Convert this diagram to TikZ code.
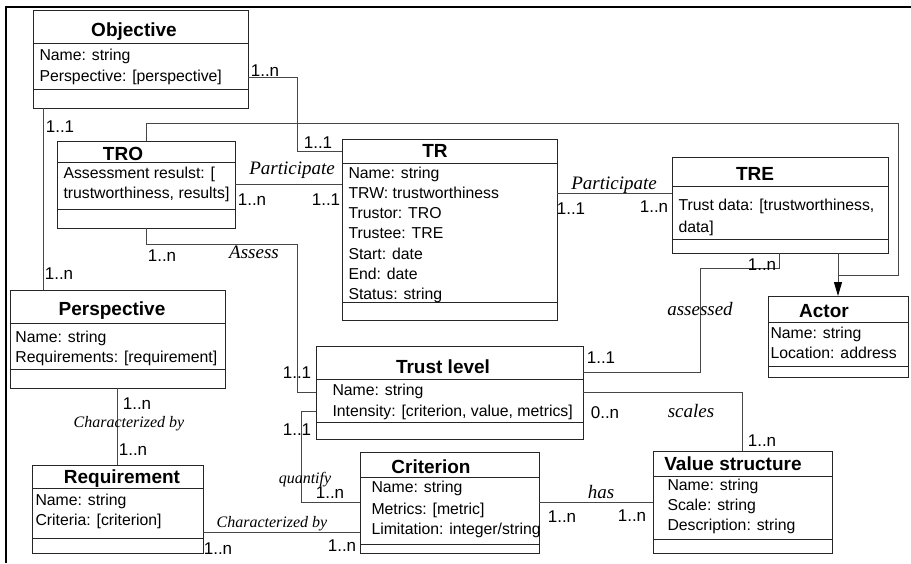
\documentclass[tikz,border=0pt]{standalone}
\usepackage{fontspec}
\setmainfont{Liberation Sans}
\newfontfamily\rolefont{Liberation Serif}
\usetikzlibrary{arrows.meta}

\begin{document}
\begin{tikzpicture}[x=1pt,y=-1pt,line width=1pt,
  classbox/.style={draw=black!85,anchor=north west,inner sep=0pt,outer sep=0pt},
  ctitle/.style={anchor=base,inner sep=0pt,font=\fontsize{19}{22}\selectfont\bfseries},
  attr/.style={anchor=base west,inner sep=0pt,font=\fontsize{15.8}{18}\selectfont},
  mult/.style={anchor=base,inner sep=0pt,font=\fontsize{17}{20}\selectfont},
  role/.style={anchor=base,inner sep=0pt,font=\fontsize{19}{22}\selectfont\rolefont\itshape},
  smallrole/.style={role,font=\fontsize{16}{19}\selectfont\rolefont\itshape},
  link/.style={draw=black!72}]
\useasboundingbox (0,0) rectangle (911,563);
% ---------- frame ----------
\draw[line width=2.5pt] (6,563) -- (6,7) -- (911,7);
% ---------- Objective ----------
\node[classbox,minimum width=215,minimum height=98] (obj) at (33,10) {};
\draw[black!85] (33,43) -- (248,43) (33,89) -- (248,89);
\node[ctitle] (obj-t) at (134,36) {Objective};
\node[attr] (obj-a1) at (39,60) {Name: string};
\node[attr] (obj-a2) at (39,81) {Perspective: [perspective]};
% ---------- TRO ----------
\node[classbox,minimum width=178,minimum height=87] (tro) at (57,141) {};
\draw[black!85] (57,162) -- (235,162) (57,209) -- (235,209);
\node[ctitle] (tro-t) at (123,160) {TRO};
\node[attr] (tro-a1) at (63,178) {Assessment resulst: [};
\node[attr] (tro-a2) at (63,198) {trustworthiness, results]};
% ---------- TR ----------
\node[classbox,minimum width=215,minimum height=181] (tr) at (342,139) {};
\draw[black!85] (342,163) -- (557,163) (342,302) -- (557,302);
\node[ctitle] (tr-t) at (435,157) {TR};
\node[attr] (tr-a1) at (348,178) {Name: string};
\node[attr] (tr-a2) at (348,198) {TRW: trustworthiness};
\node[attr] (tr-a3) at (348,218) {Trustor: TRO};
\node[attr] (tr-a4) at (348,238) {Trustee: TRE};
\node[attr] (tr-a5) at (348,259) {Start: date};
\node[attr] (tr-a6) at (348,279) {End: date};
\node[attr] (tr-a7) at (348,299) {Status: string};
% ---------- TRE ----------
\node[classbox,minimum width=216,minimum height=96] (tre) at (672,157) {};
\draw[black!85] (672,186) -- (888,186) (672,239) -- (888,239);
\node[ctitle] (tre-t) at (755,180) {TRE};
\node[attr] (tre-a1) at (678,210) {Trust data: [trustworthiness,};
\node[attr] (tre-a2) at (678,232) {data]};
% ---------- Actor ----------
\node[classbox,minimum width=140,minimum height=81] (actor) at (768,296) {};
\draw[black!85] (768,322) -- (908,322) (768,366) -- (908,366);
\node[ctitle] (actor-t) at (824,317) {Actor};
\node[attr] (actor-a1) at (770,338) {Name: string};
\node[attr] (actor-a2) at (770,358) {Location: address};
% ---------- Perspective ----------
\node[classbox,minimum width=215,minimum height=98] (persp) at (10,290) {};
\draw[black!85] (10,323) -- (225,323) (10,369) -- (225,369);
\node[ctitle] (persp-t) at (112,315) {Perspective};
\node[attr] (persp-a1) at (15,342) {Name: string};
\node[attr] (persp-a2) at (15,362) {Requirements: [requirement]};
% ---------- Requirement ----------
\node[classbox,minimum width=171,minimum height=88] (req) at (32,465) {};
\draw[black!85] (32,488) -- (203,488) (32,538) -- (203,538);
\node[ctitle] (req-t) at (122,483) {Requirement};
\node[attr] (req-a1) at (35,505) {Name: string};
\node[attr] (req-a2) at (35,525) {Criteria: [criterion]};
% ---------- Trust level ----------
\node[classbox,minimum width=267,minimum height=93] (tl) at (316,346) {};
\draw[black!85] (316,379) -- (583,379) (316,422) -- (583,422);
\node[ctitle] (tl-t) at (443,373) {Trust level};
\node[attr] (tl-a1) at (332,395) {Name: string};
\node[attr] (tl-a2) at (332,416) {Intensity: [criterion, value, metrics]};
% ---------- Criterion ----------
\node[classbox,minimum width=179,minimum height=101] (crit) at (360,452) {};
\draw[black!85] (360,477) -- (539,477) (360,544) -- (539,544);
\node[ctitle] (crit-t) at (431,473) {Criterion};
\node[attr] (crit-a1) at (371,492) {Name: string};
\node[attr] (crit-a2) at (371,514) {Metrics: [metric]};
\node[attr] (crit-a3) at (371,534) {Limitation: integer/string};
% ---------- Value structure ----------
\node[classbox,minimum width=179,minimum height=102] (vs) at (653,451) {};
\draw[black!85] (653,476) -- (832,476) (653,539) -- (832,539);
\node[ctitle] (vs-t) at (733,470) {Value structure};
\node[attr] (vs-a1) at (667,490) {Name: string};
\node[attr] (vs-a2) at (667,510) {Scale: string};
\node[attr] (vs-a3) at (667,530) {Description: string};

% ---------- associations ----------
\draw[link] (obj.east |- 0,77) -| (297,151) -- (tr.west |- 0,151);
\node[mult] (m-obj-tr) at (265,76) {1..n};
\node[mult] (m-tr-obj) at (318,148) {1..1};

\draw[link] (obj.south -| 43,0) -- (persp.north -| 43,0);
\node[mult] (m-obj-p) at (60,132) {1..1};
\node[mult] (m-p-obj) at (59,279) {1..n};

\draw[link] (tro.east |- 0,184) -- (tr.west |- 0,184);
\node[role] (r-part1) at (292,174) {Participate};
\node[mult] (m-tro-tr) at (252,205) {1..n};
\node[mult] (m-tr-tro) at (326,205) {1..1};

\draw[link] (tr.east |- 0,193) -- (tre.west |- 0,193);
\node[role] (r-part2) at (614,189) {Participate};
\node[mult] (m-tr-tre) at (571,214) {1..1};
\node[mult] (m-tre-tr) at (654,212) {1..n};

% both parties are actors
\draw[link] (tro.north) |- (898,123) |- (839,275);
\draw[link,-{Triangle[width=8pt,length=14pt,fill=black,color=black]}] (tre.south -| actor.north) -- (actor.north);

\draw[link] (tro.south) |- (297,244) |- (tl.west |- 0,392);
\node[role] (r-assess) at (254,258) {Assess};
\node[mult] (m-tro-tl) at (162,261) {1..n};
\node[mult] (m-tl-tro) at (297,378) {1..1};

\draw[link] (tl.west |- 0,411) -| (301,502) -- (crit.west |- 0,502);
\node[smallrole] (r-quant) at (305,483) {quantify};
\node[mult] (m-tl-crit) at (297,435) {1..1};
\node[mult] (m-crit-tl) at (330,498) {1..n};

\draw[link] (tl.east |- 0,372) -| (700,268) -| (tre.south -| 779,0);
\node[role] (r-assessed) at (700,315) {assessed};
\node[mult] (m-tl-tre) at (601,363) {1..1};
\node[mult] (m-tre-tl) at (762,270) {1..n};

\draw[link] (tl.east |- 0,392) -| (vs.north);
\node[role] (r-scales) at (691,417) {scales};
\node[mult] (m-tl-vs) at (605,418) {0..n};
\node[mult] (m-vs-tl) at (762,446) {1..n};

\draw[link] (crit.east |- 0,502) -- (vs.west |- 0,502);
\node[role] (r-has) at (601,498) {has};
\node[mult] (m-crit-vs) at (562,522) {1..n};
\node[mult] (m-vs-crit) at (632,521) {1..n};

\draw[link] (persp.south) -- (req.north);
\node[smallrole] (r-char1) at (129,427) {Characterized by};
\node[mult] (m-p-req) at (137,409) {1..n};
\node[mult] (m-req-p) at (133,455) {1..n};

\draw[link] (req.east |- 0,532) -- (crit.west |- 0,532);
\node[smallrole] (r-char2) at (272,527) {Characterized by};
\node[mult] (m-req-crit) at (218,554) {1..n};
\node[mult] (m-crit-req) at (342,551) {1..n};
\end{tikzpicture}
\end{document}
